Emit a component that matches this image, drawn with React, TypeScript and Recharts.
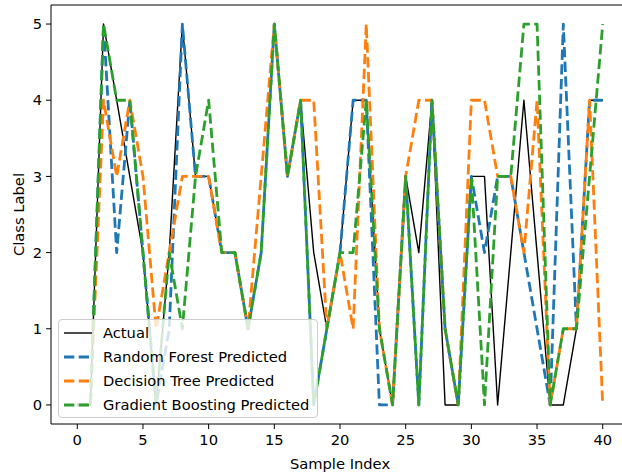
import { LineChart, Line, XAxis, YAxis, Legend, ReferenceLine } from 'recharts';

const sampleIndex = [0, 1, 2, 3, 4, 5, 6, 7, 8, 9, 10, 11, 12, 13, 14, 15, 16, 17, 18, 19, 20, 21, 22, 23, 24, 25, 26, 27, 28, 29, 30, 31, 32, 33, 34, 35, 36, 37, 38, 39, 40];
const actual = [0, 0, 5, 4, 3, 2, 0, 2, 5, 3, 3, 2, 2, 1, 2, 5, 3, 4, 2, 1, 2, 4, 4, 1, 0, 3, 2, 4, 0, 0, 3, 3, 0, 2, 4, 2, 0, 0, 1, 4, 4];
const randomForest = [0, 0, 5, 2, 4, 2, 0, 1, 5, 3, 3, 2, 2, 1, 2, 5, 3, 4, 0, 1, 2, 4, 4, 0, 0, 3, 0, 4, 1, 0, 3, 2, 3, 3, 2, 1, 0, 5, 1, 4, 4];
const decisionTree = [0, 0, 4, 3, 4, 3, 1, 2, 3, 3, 3, 2, 2, 1, 3, 5, 3, 4, 4, 1, 2, 1, 5, 1, 0, 3, 4, 4, 1, 0, 4, 4, 3, 3, 2, 4, 0, 1, 1, 4, 0];
const gradientBoosting = [0, 0, 5, 4, 4, 2, 0, 2, 1, 3, 4, 2, 2, 1, 2, 5, 3, 4, 0, 1, 2, 2, 4, 1, 0, 3, 0, 4, 1, 0, 3, 0, 3, 3, 5, 5, 0, 1, 1, 3, 5];

const xTicks = [0, 5, 10, 15, 20, 25, 30, 35, 40];
const yTicks = [0, 1, 2, 3, 4, 5];

const series = [
  { key: 'actual', name: 'Actual', color: '#000000', width: 1.4, dash: undefined },
  { key: 'rf', name: 'Random Forest Predicted', color: '#1f77b4', width: 2.8, dash: '10.3 4.4' },
  { key: 'dt', name: 'Decision Tree Predicted', color: '#ff7f0e', width: 2.8, dash: '10.3 4.4' },
  { key: 'gb', name: 'Gradient Boosting Predicted', color: '#2ca02c', width: 2.8, dash: '10.3 4.4' },
];

const data = sampleIndex.map((idx, i) => ({
  index: idx,
  actual: actual[i],
  rf: randomForest[i],
  dt: decisionTree[i],
  gb: gradientBoosting[i],
}));

const font = '"DejaVu Sans", sans-serif';
const fs = 14.7;

const renderLegend = () => (
  <div
    style={{
      background: 'rgba(255,255,255,0.8)',
      border: '1px solid #cccccc',
      borderRadius: 4,
      padding: '4px 8px 4px 5px',
      fontFamily: font,
      fontSize: fs,
      color: '#000',
    }}
  >
    {series.map((s, i) => (
      <div key={s.key} style={{ display: 'flex', alignItems: 'center', height: 17, marginTop: i === 0 ? 0 : 7 }}>
        <svg width={28} height={10} style={{ display: 'block' }}>
          <line x1={0} y1={5} x2={28} y2={5} stroke={s.color} strokeWidth={s.width} strokeDasharray={s.dash} />
        </svg>
        <span style={{ marginLeft: 11, whiteSpace: 'nowrap' }}>{s.name}</span>
      </div>
    ))}
  </div>
);

const yLabel = ({ viewBox }: any) => {
  const x = viewBox.x + 18;
  const y = viewBox.y + viewBox.height / 2;
  return (
    <text x={x} y={y} transform={`rotate(-90, ${x}, ${y})`} textAnchor="middle" dominantBaseline="central" fontFamily={font} fontSize={fs} fill="#000">
      Class Label
    </text>
  );
};

export default function App() {
  return (
    <div style={{ position: 'absolute', left: 0, top: 0, width: 622, height: 475, overflow: 'hidden', background: '#fff' }}>
      <LineChart width={640} height={475} data={data} margin={{ top: 5, right: 11, left: 0, bottom: 0 }}>
        <XAxis
          dataKey="index"
          type="number"
          domain={[-2, 42]}
          ticks={xTicks}
          height={51}
          tickSize={5}
          tickMargin={6}
          stroke="#000"
          tick={{ fill: '#000', fontSize: fs, fontFamily: font }}
          label={{ value: 'Sample Index', position: 'insideBottom', offset: 6, fill: '#000', fontSize: fs, fontFamily: font }}
        />
        <YAxis
          type="number"
          domain={[-0.25, 5.25]}
          ticks={yTicks}
          width={51}
          tickSize={5}
          tickMargin={4}
          stroke="#000"
          allowDataOverflow
          tick={{ fill: '#000', fontSize: fs, fontFamily: font }}
          label={{ content: yLabel }}
        />
        <ReferenceLine y={5.25} stroke="#000" strokeWidth={1} />
        {series.map((s) => (
          <Line
            key={s.key}
            type="linear"
            dataKey={s.key}
            name={s.name}
            stroke={s.color}
            strokeWidth={s.width}
            strokeDasharray={s.dash}
            strokeLinejoin="round"
            dot={false}
            activeDot={false}
            isAnimationActive={false}
          />
        ))}
        <Legend
          layout="vertical"
          align="center"
          verticalAlign="middle"
          content={renderLegend}
          wrapperStyle={{ left: 58, top: 319, width: 'auto', height: 'auto' }}
        />
      </LineChart>
    </div>
  );
}
